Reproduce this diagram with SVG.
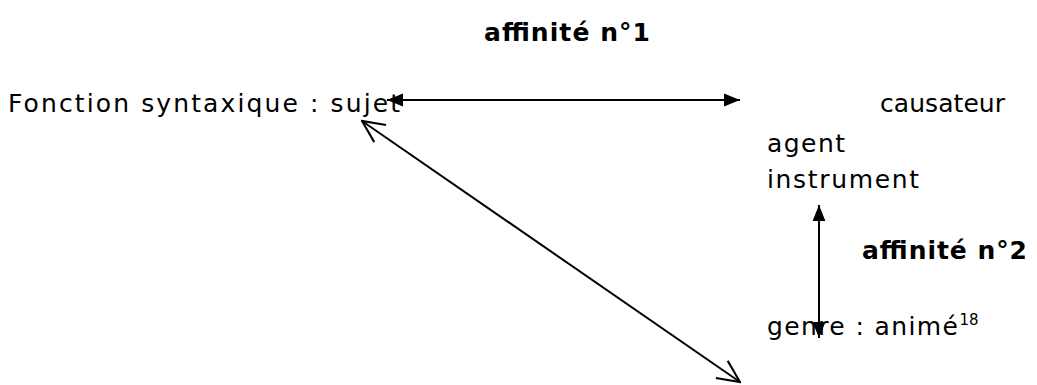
<svg xmlns="http://www.w3.org/2000/svg" width="1037" height="385" viewBox="0 0 1037 385">
  <style>
    text { font-family: "DejaVu Sans", "Liberation Sans", sans-serif; font-size: 25px; fill: #000; }
    .b { font-weight: bold; }
    .ln { stroke: #000; stroke-width: 2; fill: none; }
  </style>
  <defs>
    <marker id="fill" viewBox="0 0 10 10" refX="10" refY="5" markerWidth="16" markerHeight="16" markerUnits="userSpaceOnUse" orient="auto-start-reverse">
      <path d="M0,1 L10,5 L0,9 Z" fill="#000"/>
    </marker>
    <marker id="open" viewBox="0 0 20 20" refX="19" refY="10" markerWidth="26" markerHeight="26" markerUnits="userSpaceOnUse" orient="auto-start-reverse">
      <path d="M2,2 L19,10 L2,18" fill="none" stroke="#000" stroke-width="1.6"/>
    </marker>
  </defs>
  <rect width="1037" height="385" fill="#fff"/>

  <g id="label-affinite1">
    <text class="b" x="484" y="41" textLength="166" lengthAdjust="spacing">affinité n°1</text>
  </g>
  <g id="node-sujet">
    <text x="8" y="112" textLength="392" lengthAdjust="spacing">Fonction syntaxique : sujet</text>
  </g>
  <g id="node-roles">
    <text x="880" y="112" textLength="125" lengthAdjust="spacing">causateur</text>
    <text x="767" y="152" textLength="78" lengthAdjust="spacing">agent</text>
    <text x="767" y="188" textLength="152" lengthAdjust="spacing">instrument</text>
  </g>
  <g id="label-affinite2">
    <text class="b" x="862" y="259" textLength="165" lengthAdjust="spacing">affinité n°2</text>
  </g>
  <g id="node-genre">
    <text x="767" y="335"><tspan textLength="191" lengthAdjust="spacing">genre : animé</tspan><tspan dy="-10" font-size="15">18</tspan></text>
  </g>

  <g id="connectors">
    <line class="ln" x1="387" y1="100" x2="740" y2="100" marker-start="url(#fill)" marker-end="url(#fill)"/>
    <line class="ln" x1="819" y1="205" x2="819" y2="338" marker-start="url(#fill)" marker-end="url(#fill)"/>
    <line class="ln" x1="362" y1="121" x2="740" y2="382" marker-start="url(#open)" marker-end="url(#open)"/>
  </g>
</svg>
